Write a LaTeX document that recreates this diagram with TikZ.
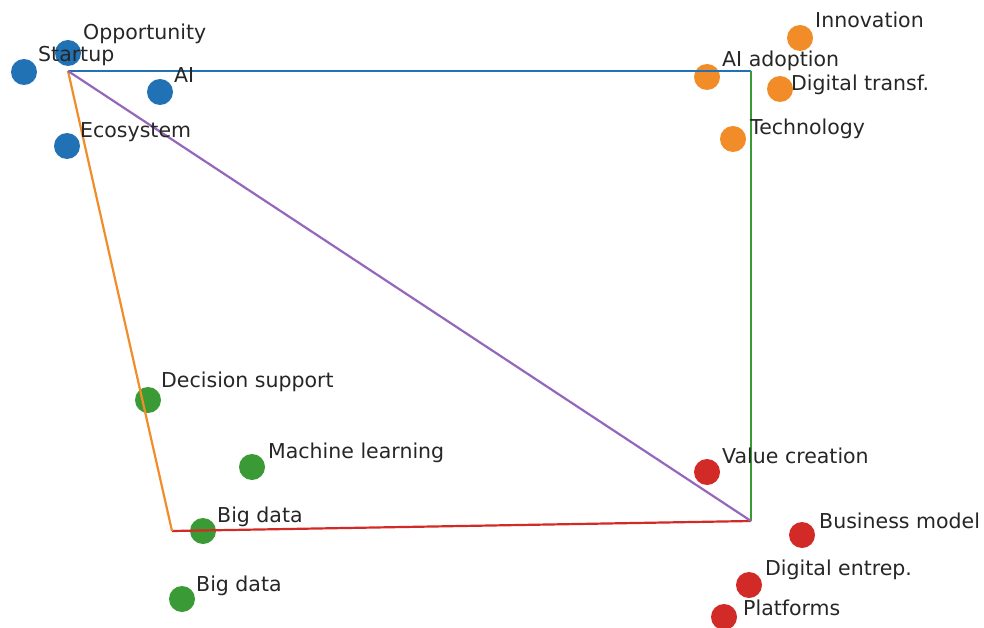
\documentclass[tikz,border=0pt]{standalone}
\usepackage{fontspec}
\setmainfont{DejaVu Sans}
\definecolor{tabblue}{HTML}{2171B5}
\definecolor{taborange}{HTML}{F28C28}
\definecolor{tabgreen}{HTML}{3A9A35}
\definecolor{tabred}{HTML}{D22A26}
\definecolor{tabpurple}{HTML}{9467BD}
\begin{document}
\begin{tikzpicture}[x=1pt,y=-1pt]
\begin{scope}

\tikzstyle{dot} = [circle,minimum size=26pt,inner sep=0pt];
\tikzstyle{dot1} = [dot,fill=tabblue];
\tikzstyle{dot2} = [dot,fill=taborange];
\tikzstyle{dot3} = [dot,fill=tabgreen];
\tikzstyle{dot4} = [dot,fill=tabred];
\tikzstyle{lbl} = [anchor=west,inner sep=0pt,text height=0.75em,text depth=0.2em,font=\fontsize{20.5}{24}\selectfont,text=black!85];
\tikzstyle{edge} = [line width=2.2pt];

\useasboundingbox (0,0) rectangle (984,628);

\node [dot1] (s1) at (24,72) {};
\node [dot1] (s2) at (68,53) {};
\node [dot1] (s3) at (160,92) {};
\node [dot1] (s4) at (67,146) {};

\node [dot2] (t1) at (800,38) {};
\node [dot2] (t2) at (707,77) {};
\node [dot2] (t3) at (780,89) {};
\node [dot2] (t4) at (733,139) {};

\node [dot3] (d1) at (148,400) {};
\node [dot3] (d2) at (252,467) {};
\node [dot3] (d3) at (203,531) {};
\node [dot3] (d4) at (182,599) {};

\node [dot4] (v1) at (707,472) {};
\node [dot4] (v2) at (802,535) {};
\node [dot4] (v3) at (749,585) {};
\node [dot4] (v4) at (724,617) {};

\coordinate (c1) at (68,71);
\coordinate (c2) at (751,71);
\coordinate (c3) at (751,521);
\coordinate (c4) at (172,531);

\draw [edge,tabblue] (c1) -- (c2);
\draw [edge,tabgreen] (c2) -- (c3);
\draw [edge,tabred] (c4) -- (c3);
\draw [edge,taborange] (c1) -- (c4);
\draw [edge,tabpurple] (c1) -- (c3);

\node [lbl] (s1l) at ([xshift=14pt,yshift=13pt]s1.center) {Startup};
\node [lbl] (s2l) at ([xshift=15pt,yshift=16pt]s2.center) {Opportunity};
\node [lbl] (s3l) at ([xshift=14pt,yshift=12pt]s3.center) {AI};
\node [lbl] (s4l) at ([xshift=13pt,yshift=11pt]s4.center) {Ecosystem};

\node [lbl] (t1l) at ([xshift=15pt,yshift=13pt]t1.center) {Innovation};
\node [lbl] (t2l) at ([xshift=15pt,yshift=13pt]t2.center) {AI adoption};
\node [lbl] (t3l) at ([xshift=11pt,yshift=1pt]t3.center) {Digital transf.};
\node [lbl] (t4l) at ([xshift=17pt,yshift=7pt]t4.center) {Technology};

\node [lbl] (d1l) at ([xshift=13pt,yshift=15pt]d1.center) {Decision support};
\node [lbl] (d2l) at ([xshift=16pt,yshift=11pt]d2.center) {Machine learning};
\node [lbl] (d3l) at ([xshift=14pt,yshift=11pt]d3.center) {Big data};
\node [lbl] (d4l) at ([xshift=14pt,yshift=10pt]d4.center) {Big data};

\node [lbl] (v1l) at ([xshift=15pt,yshift=11pt]v1.center) {Value creation};
\node [lbl] (v2l) at ([xshift=17pt,yshift=9pt]v2.center) {Business model};
\node [lbl] (v3l) at ([xshift=16pt,yshift=12pt]v3.center) {Digital entrep.};
\node [lbl] (v4l) at ([xshift=19pt,yshift=4pt]v4.center) {Platforms};

\end{scope}
\end{tikzpicture}
\end{document}
